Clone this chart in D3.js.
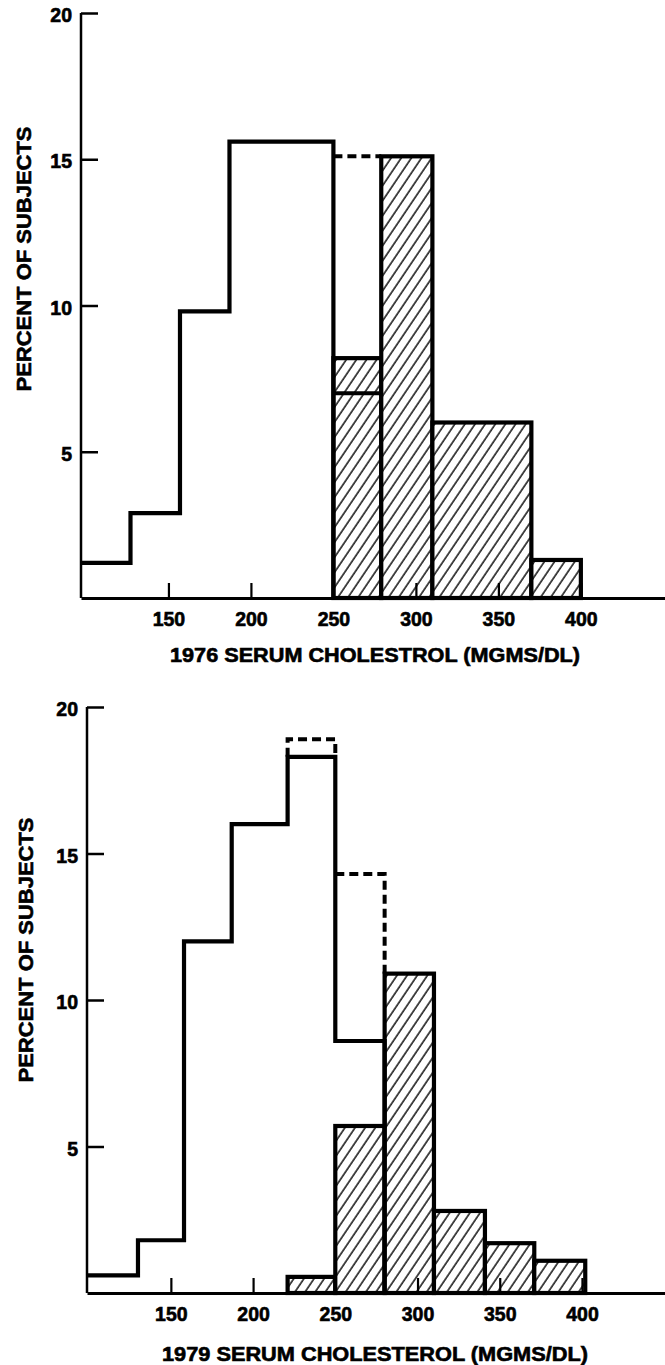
<!DOCTYPE html>
<html>
<head>
<meta charset="utf-8">
<script src="https://cdn.jsdelivr.net/npm/d3@7"></script>
<style>
  html, body { margin: 0; padding: 0; background: #fff; }
  svg { display: block; }
  text { font-family: "Liberation Sans", Arial, Helvetica, sans-serif; font-weight: bold; fill: #000; stroke: #000; stroke-width: 0.6px; }
</style>
</head>
<body>
<svg id="chart" width="665" height="1365"></svg>
<script>
// ---------- DATA ----------
const xTicks = [150, 200, 250, 300, 350, 400];
const yTicks = [5, 10, 15, 20];
const yTitle = "PERCENT OF SUBJECTS";

// 1976 panel
const title1976 = "1976 SERUM CHOLESTROL (MGMS/DL)";
const openEdges1976 = [97, 127, 157, 187, 250];
const openVals1976 = [1.2, 2.9, 9.8, 15.6];
const hatchEdges1976 = [250, 279, 310, 370, 400];
const hatchVals1976 = [8.2, 15.1, 6.0, 1.3];
const innerLine1976 = { x0: 250, x1: 279, v: 7.0 };
const dashedPts1976 = [[250, 15.1], [279, 15.1]];

// 1979 panel
const title1979 = "1979 SERUM CHOLESTEROL (MGMS/DL)";
const openEdges1979 = [99, 130, 158, 187, 221, 250, 280];
const openVals1979 = [0.6, 1.8, 12.0, 16.0, 18.3, 8.6];
const hatchEdges1979 = [221, 250, 280, 310, 341, 371, 402];
const hatchVals1979 = [0.55, 5.7, 10.9, 2.8, 1.7, 1.1];
const dashedA1979 = [[221, 18.3], [221, 18.9], [250, 18.9], [250, 18.3]];
const dashedB1979 = [[250, 14.3], [280, 14.3], [280, 10.9]];

// ---------- DRAW ----------
const svg = d3.select("#chart");
svg.append("rect").attr("width", 665).attr("height", 1365).attr("fill", "#fff");

const defs = svg.append("defs");
const pat = defs.append("pattern")
  .attr("id", "hatch")
  .attr("patternUnits", "userSpaceOnUse")
  .attr("width", 8.4).attr("height", 8.4)
  .attr("patternTransform", "rotate(34)");
pat.append("rect").attr("width", 8.4).attr("height", 8.4).attr("fill", "#fff");
pat.append("line").attr("x1", 1).attr("y1", 0).attr("x2", 1).attr("y2", 8.4)
  .attr("stroke", "#000").attr("stroke-width", 1.4);

function panel(cfg) {
  const g = svg.append("g");
  const x = d3.scaleLinear().domain(cfg.xDomain).range(cfg.xRange);
  const y = d3.scaleLinear().domain([0, 20]).range(cfg.yRange);

  // hatched bars
  const bins = cfg.hatchVals.map((v, i) => ({ a: cfg.hatchEdges[i], b: cfg.hatchEdges[i + 1], v }));
  g.selectAll("rect.h").data(bins).enter().append("rect")
    .attr("x", d => x(d.a)).attr("width", d => x(d.b) - x(d.a))
    .attr("y", d => y(d.v)).attr("height", d => y(0) - y(d.v))
    .attr("fill", "url(#hatch)")
    .attr("stroke", "#000").attr("stroke-width", 4.2).attr("stroke-linejoin", "miter");

  // open histogram outline
  const pts = [];
  cfg.openVals.forEach((v, i) => {
    pts.push([cfg.openEdges[i], v]);
    pts.push([cfg.openEdges[i + 1], v]);
  });
  pts.push([cfg.openEdges[cfg.openEdges.length - 1], 0]);
  const line = d3.line().x(d => x(d[0])).y(d => y(d[1]));
  g.append("path").attr("d", line(pts))
    .attr("fill", "none").attr("stroke", "#000").attr("stroke-width", 4.2)
    .attr("stroke-linejoin", "miter");

  if (cfg.inner) {
    g.append("path").attr("d", line([[cfg.inner.x0, cfg.inner.v], [cfg.inner.x1, cfg.inner.v]]))
      .attr("stroke", "#000").attr("stroke-width", 4.2).attr("fill", "none");
  }
  cfg.dashed.forEach(p => {
    g.append("path").attr("d", line(p))
      .attr("fill", "none").attr("stroke", "#000").attr("stroke-width", 4)
      .attr("stroke-dasharray", "9,5");
  });

  // axes
  const xAxis = d3.axisBottom(x).tickValues(xTicks).tickSizeInner(-15).tickSizeOuter(0).tickPadding(14);
  const xg = g.append("g").attr("transform", `translate(0,${y(0)})`).call(xAxis);
  xg.select(".domain").attr("stroke", "#000").attr("stroke-width", 3);
  xg.selectAll(".tick line").attr("stroke", "#000").attr("stroke-width", 2.2);
  xg.selectAll(".tick text").attr("font-size", 19.5).attr("fill", "#000")
    .attr("font-family", "'Liberation Sans', Arial, sans-serif").attr("font-weight", "bold");

  const yAxis = d3.axisLeft(y).tickValues(yTicks).tickSizeInner(-17).tickSizeOuter(0).tickPadding(9);
  const yg = g.append("g").attr("transform", `translate(${x(cfg.xDomain[0])},0)`).call(yAxis);
  yg.select(".domain").attr("stroke", "#000").attr("stroke-width", 2.5)
    .attr("d", `M0,${y(20)}V${y(0)}`);
  yg.selectAll(".tick line").attr("stroke", "#000").attr("stroke-width", 2.5);
  yg.selectAll(".tick text").attr("font-size", 19.5).attr("fill", "#000").attr("dy", "0.44em")
    .attr("font-family", "'Liberation Sans', Arial, sans-serif").attr("font-weight", "bold");

  // titles
  g.append("text").attr("x", cfg.titleX).attr("y", cfg.titleY)
    .attr("text-anchor", "middle").attr("font-size", 19.5)
    .attr("textLength", cfg.titleLen).attr("lengthAdjust", "spacingAndGlyphs")
    .text(cfg.title);
  g.append("text")
    .attr("transform", `translate(${cfg.yTitleX},${cfg.yTitleY}) rotate(-90)`)
    .attr("text-anchor", "middle").attr("font-size", 21)
    .attr("textLength", 265).attr("lengthAdjust", "spacingAndGlyphs")
    .text(yTitle);
}

panel({
  xDomain: [97, 451], xRange: [81, 665], yRange: [598, 13],
  openEdges: openEdges1976, openVals: openVals1976,
  hatchEdges: hatchEdges1976, hatchVals: hatchVals1976,
  inner: innerLine1976, dashed: [dashedPts1976],
  title: title1976, titleX: 375, titleY: 662, titleLen: 410,
  yTitleX: 31, yTitleY: 259
});

panel({
  xDomain: [99, 450.5], xRange: [87, 665], yRange: [1293, 707],
  openEdges: openEdges1979, openVals: openVals1979,
  hatchEdges: hatchEdges1979, hatchVals: hatchVals1979,
  inner: null, dashed: [dashedA1979, dashedB1979],
  title: title1979, titleX: 375, titleY: 1361, titleLen: 426,
  yTitleX: 33, yTitleY: 950
});
</script>
</body>
</html>
